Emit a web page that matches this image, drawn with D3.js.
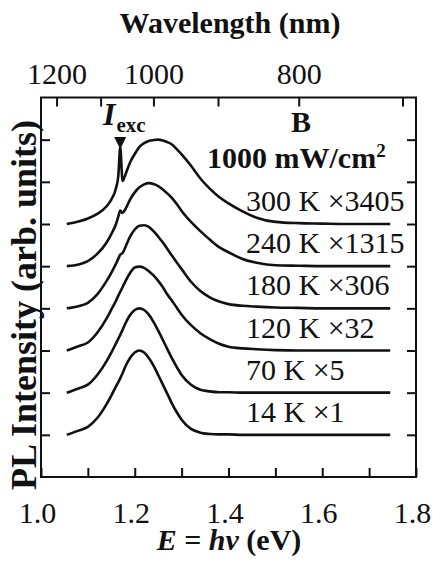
<!DOCTYPE html>
<html>
<head>
<meta charset="utf-8">
<script src="https://cdn.jsdelivr.net/npm/d3@7"></script>
<style>
body { margin: 0; background: #fff; }
text { font-family: "Liberation Serif", "Times New Roman", serif; fill: #111; }
</style>
</head>
<body>
<svg width="433" height="571"></svg>
<script>
// photon energy grid (eV) shared by all spectra
var energy = [1.055, 1.08, 1.10, 1.12, 1.14, 1.15, 1.16, 1.165, 1.169, 1.174, 1.18, 1.19, 1.20, 1.21, 1.22, 1.23, 1.24, 1.25, 1.26, 1.27, 1.28, 1.29, 1.30, 1.32, 1.34, 1.36, 1.38, 1.40, 1.43, 1.46, 1.50, 1.55, 1.60, 1.65, 1.70, 1.745];

// normalized PL spectra (arb. units)
var pl14K  = [0.00, 0.10, 0.19, 0.40, 0.73, 0.93, 1.15, 1.25, 1.34, 1.46, 1.62, 1.82, 1.95, 2.00, 1.95, 1.82, 1.64, 1.42, 1.19, 0.96, 0.73, 0.53, 0.36, 0.14, 0.05, 0.02, 0.01, 0.01, 0.00, 0.00, 0.00, 0.00, 0.00, 0.00, 0.00, 0.00];
var pl70K  = [0.00, 0.10, 0.19, 0.42, 0.75, 0.95, 1.17, 1.28, 1.37, 1.49, 1.64, 1.84, 1.96, 2.00, 1.96, 1.85, 1.68, 1.47, 1.25, 1.02, 0.80, 0.60, 0.42, 0.19, 0.07, 0.03, 0.01, 0.01, 0.00, 0.00, 0.00, 0.00, 0.00, 0.00, 0.00, 0.00];
var pl120K = [0.00, 0.10, 0.19, 0.42, 0.76, 0.97, 1.18, 1.30, 1.39, 1.50, 1.64, 1.84, 1.97, 1.99, 1.96, 1.88, 1.78, 1.65, 1.50, 1.32, 1.17, 1.01, 0.85, 0.60, 0.41, 0.27, 0.16, 0.09, 0.05, 0.03, 0.01, 0.00, 0.00, 0.00, 0.00, 0.00];
var pl180K = [0.00, 0.05, 0.13, 0.33, 0.65, 0.84, 1.06, 1.18, 1.27, 1.31, 1.45, 1.70, 1.87, 1.96, 1.97, 1.93, 1.83, 1.70, 1.56, 1.40, 1.24, 1.08, 0.93, 0.63, 0.41, 0.26, 0.16, 0.10, 0.06, 0.04, 0.02, 0.01, 0.00, 0.00, 0.00, 0.00];
var pl240K = [0.00, 0.04, 0.12, 0.29, 0.56, 0.76, 1.00, 1.18, 1.32, 1.26, 1.35, 1.58, 1.75, 1.87, 1.94, 1.97, 1.95, 1.90, 1.82, 1.72, 1.61, 1.47, 1.31, 1.05, 0.83, 0.63, 0.45, 0.33, 0.17, 0.08, 0.02, 0.01, 0.00, 0.00, 0.00, 0.00];
var pl300K = [0.00, 0.06, 0.13, 0.24, 0.42, 0.58, 0.85, 1.15, 1.82, 1.02, 1.17, 1.46, 1.66, 1.83, 1.92, 1.97, 1.99, 2.00, 1.98, 1.94, 1.88, 1.77, 1.65, 1.38, 1.08, 0.84, 0.64, 0.49, 0.30, 0.15, 0.05, 0.02, 0.01, 0.00, 0.00, 0.00];

var spectra = [pl14K, pl70K, pl120K, pl180K, pl240K, pl300K];
var tempLabels = ["14 K", "70 K", "120 K", "180 K", "240 K", "300 K"];
var factorLabels = ["\u00d71", "\u00d75", "\u00d732", "\u00d7306", "\u00d71315", "\u00d73405"];

var energyTicks = [1.0, 1.1, 1.2, 1.3, 1.4, 1.5, 1.6, 1.7, 1.8];
var energyLabels = [1.0, 1.2, 1.4, 1.6, 1.8];
var wavelengthTicks = [1200, 1100, 1000, 900, 800, 700];
var wavelengthLabels = [1200, 1000, 800];
var intensityTicks = [0, 1, 2, 3, 4, 5, 6, 7];
var excEnergy = 1.169; // laser line (I_exc)

var svg = d3.select("svg");
var plotL = 41, plotR = 416, plotT = 97.5, plotB = 477;

var x = d3.scaleLinear().domain([1.0, 1.8]).range([plotL, plotR]);
var y = d3.scaleLinear().domain([-1, 8]).range([plotB, plotT]);

// frame
svg.append("rect")
  .attr("x", plotL).attr("y", plotT)
  .attr("width", plotR - plotL).attr("height", plotB - plotT)
  .attr("fill", "none").attr("stroke", "#111").attr("stroke-width", 2);

// bottom axis
var bAxis = svg.append("g")
  .attr("transform", "translate(0," + plotB + ")")
  .call(d3.axisBottom(x)
    .tickValues(energyTicks)
    .tickSize(-9)
    .tickPadding(25)
    .tickFormat(function(d) {
      return energyLabels.some(function(v) { return Math.abs(v - d) < 1e-6; }) ? d3.format(".1f")(d) : "";
    }));
bAxis.select(".domain").remove();
bAxis.selectAll("line").attr("stroke", "#111").attr("stroke-width", 2);
bAxis.selectAll("text").attr("font-size", 30).attr("font-family", null).attr("fill", "#111").attr("dx", -4);

// top axis in wavelength
var tAxis = svg.append("g")
  .attr("transform", "translate(0," + plotT + ")")
  .call(d3.axisTop(x)
    .tickValues(wavelengthTicks.map(function(w) { return 1239.84 / w; }))
    .tickSize(-9)
    .tickPadding(14)
    .tickFormat(function(d) {
      var w = Math.round(1239.84 / d);
      return wavelengthLabels.indexOf(w) >= 0 ? w : "";
    }));
tAxis.select(".domain").remove();
tAxis.selectAll("line").attr("stroke", "#111").attr("stroke-width", 2);
tAxis.selectAll("text").attr("font-size", 30).attr("font-family", null).attr("fill", "#111");

// left and right ticks
var lAxis = svg.append("g")
  .attr("transform", "translate(" + plotL + ",0)")
  .call(d3.axisLeft(y).tickValues(intensityTicks).tickSize(-9).tickFormat(""));
lAxis.select(".domain").remove();
lAxis.selectAll("line").attr("stroke", "#111").attr("stroke-width", 2);

var rAxis = svg.append("g")
  .attr("transform", "translate(" + plotR + ",0)")
  .call(d3.axisRight(y).tickValues(intensityTicks).tickSize(-9).tickFormat(""));
rAxis.select(".domain").remove();
rAxis.selectAll("line").attr("stroke", "#111").attr("stroke-width", 2);

// spectra, each shifted up by one tick
var line = d3.line()
  .x(function(d) { return x(d[0]); })
  .y(function(d) { return y(d[1]); })
  .curve(d3.curveMonotoneX);

spectra.forEach(function(vals, i) {
  var pts = energy.map(function(e, j) { return [e, vals[j] + i]; });
  svg.append("path")
    .attr("d", line(pts))
    .attr("fill", "none")
    .attr("stroke", "#111")
    .attr("stroke-width", 2.6)
    .attr("stroke-linejoin", "round");

  var t = svg.append("text")
    .attr("x", 246)
    .attr("y", y(i) - 13)
    .attr("font-size", 30);
  t.append("tspan").text(tempLabels[i] + " ");
  t.append("tspan").text(factorLabels[i]);
});

// excitation marker
var ex = x(excEnergy);
svg.append("path")
  .attr("d", "M" + (ex - 6) + ",137 L" + (ex + 6) + ",137 L" + ex + ",149 Z")
  .attr("fill", "#111");
svg.append("line")
  .attr("x1", ex).attr("x2", ex).attr("y1", 137).attr("y2", 150)
  .attr("stroke", "#111").attr("stroke-width", 2);
var ie = svg.append("text").attr("x", 103).attr("y", 125).attr("font-weight", "bold");
ie.append("tspan").attr("font-style", "italic").attr("font-size", 32).text("I");
ie.append("tspan").attr("font-size", 21).attr("dy", 7).attr("dx", 1).text("exc");

// annotations
svg.append("text")
  .attr("x", 301).attr("y", 132)
  .attr("text-anchor", "middle")
  .attr("font-size", 30).attr("font-weight", "bold")
  .text("B");
var pw = svg.append("text")
  .attr("x", 207).attr("y", 168)
  .attr("font-size", 30).attr("font-weight", "bold");
pw.append("tspan").text("1000 mW/cm");
pw.append("tspan").attr("font-size", 19).attr("dy", -11).text("2");

// axis titles
svg.append("text")
  .attr("x", 230).attr("y", 33)
  .attr("text-anchor", "middle")
  .attr("font-size", 30).attr("font-weight", "bold")
  .text("Wavelength (nm)");

var xt = svg.append("text")
  .attr("x", 229).attr("y", 550)
  .attr("text-anchor", "middle")
  .attr("font-size", 30).attr("font-weight", "bold");
xt.append("tspan").attr("font-style", "italic").text("E");
xt.append("tspan").text(" = ");
xt.append("tspan").attr("font-style", "italic").text("h\u03bd");
xt.append("tspan").text(" (eV)");

svg.append("text")
  .attr("transform", "translate(36,305) rotate(-90)")
  .attr("text-anchor", "middle")
  .attr("font-size", 36).attr("font-weight", "bold")
  .text("PL Intensity (arb. units)");
</script>
</body>
</html>
